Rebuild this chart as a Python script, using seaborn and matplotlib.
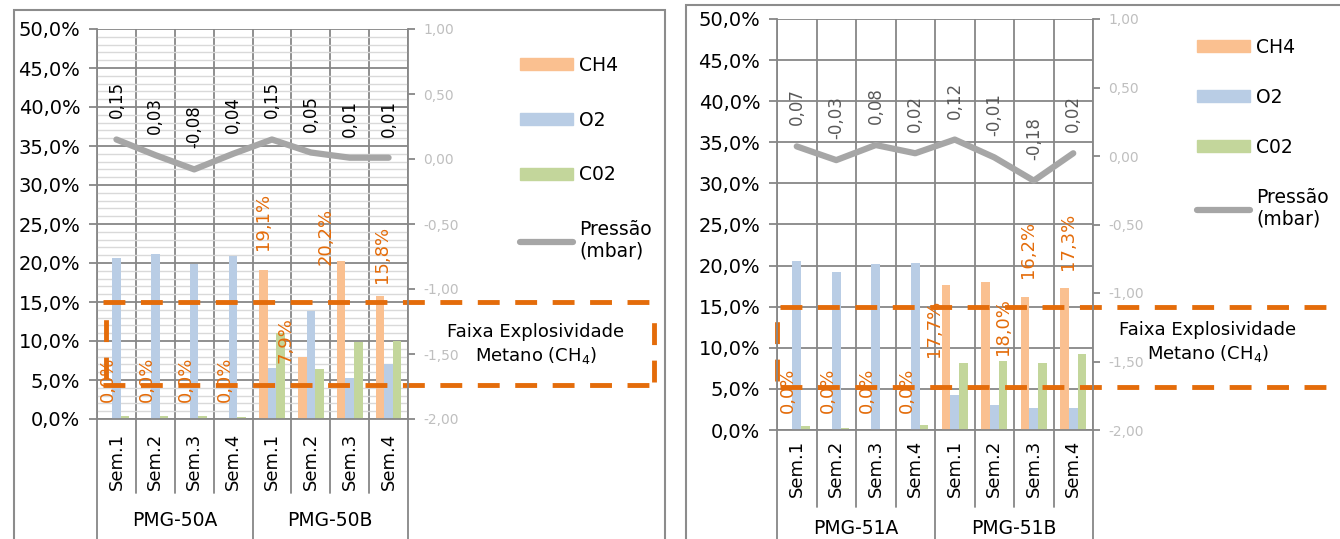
import numpy as np
import pandas as pd
import matplotlib
matplotlib.use('Agg')
import matplotlib.pyplot as plt
import matplotlib.transforms as mtransforms
from matplotlib.patches import Patch, Rectangle
from matplotlib.lines import Line2D
from matplotlib.ticker import FuncFormatter, MultipleLocator
import seaborn as sns

# dados
semanas = ['Sem.1', 'Sem.2', 'Sem.3', 'Sem.4']
gases = ['CH4', 'O2', 'C02']

grupos_50 = ['PMG-50A', 'PMG-50B']
ch4_50 = [0.0, 0.0, 0.0, 0.0, 19.1, 7.9, 20.2, 15.8]
o2_50 = [20.7, 21.1, 19.9, 20.9, 6.6, 13.9, 5.2, 7.1]
co2_50 = [0.4, 0.4, 0.4, 0.2, 11.0, 6.4, 9.9, 10.0]
pressao_50 = [0.15, 0.03, -0.08, 0.04, 0.15, 0.05, 0.01, 0.01]

grupos_51 = ['PMG-51A', 'PMG-51B']
ch4_51 = [0.0, 0.0, 0.0, 0.0, 17.7, 18.0, 16.2, 17.3]
o2_51 = [20.6, 19.2, 20.2, 20.3, 4.3, 3.0, 2.7, 2.7]
co2_51 = [0.5, 0.2, 0.0, 0.6, 8.1, 8.4, 8.1, 9.3]
pressao_51 = [0.07, -0.03, 0.08, 0.02, 0.12, -0.01, -0.18, 0.02]

# faixa de explosividade do metano (como desenhada em cada painel)
faixa_50 = (4.3, 15.0)
faixa_51 = (5.2, 15.0)

# deslocamento dos rotulos de CH4 (px: dx, distancia acima da barra)
desloc_50 = [(0, 17), (0, 17), (0, 17), (0, 17), (0, 20), (-17, -6), (-16, -4), (2, 13)]
desloc_51 = [(0, 17), (0, 17), (0, 17), (0, 17), (-12, -72), (17, -73), (3, 19), (3, 18)]

cores = {'CH4': '#FAC090', 'O2': '#B9CDE5', 'C02': '#C3D69B'}
cinza_linha = '#A6A6A6'
laranja = '#E46C0A'
grade = '#878787'

W, H = 1340, 539
PX = 72 / 100  # px -> pt

sns.set_style('white')
plt.rcParams['font.family'] = ['DejaVu Sans']
plt.rcParams['text.color'] = 'black'
plt.rcParams['xtick.color'] = 'black'
plt.rcParams['ytick.color'] = 'black'
plt.rcParams['axes.labelcolor'] = 'black'

fig = plt.figure(figsize=(W / 100, H / 100), dpi=100)


def fx(x):
    return x / W


def fy(y):
    return 1 - y / H


def pct(v, _):
    return f'{v:.1f}%'.replace('.', ',')


def dec(v, _):
    return f'{v:.2f}'.replace('.', ',')


def painel(rect, grupos, ch4, o2, co2, pressao, faixa, desloc, minor, cor_rot,
           sep_sem, sep_grp, y_grp, pad_x, leg_pos, leg_esp, faixa_x, texto_pos):
    ax = fig.add_axes(rect)
    cats = [f'{g} {s}' for g in grupos for s in semanas]
    df = pd.DataFrame({'cat': cats * 3,
                       'gas': np.repeat(gases, len(cats)),
                       'valor': ch4 + o2 + co2})
    sns.barplot(data=df, x='cat', y='valor', hue='gas', hue_order=gases,
                palette=cores, width=0.66, gap=0, saturation=1, linewidth=0,
                errorbar=None, legend=False, ax=ax)
    ax.set_xlim(-0.5, 7.5)
    ax.set_ylim(0, 50)
    ax.set_xlabel('')
    ax.set_ylabel('')
    ax.set_xticks(range(8))
    ax.set_xticklabels(semanas * 2, rotation=90, fontsize=13)
    ax.tick_params(axis='x', length=0, pad=pad_x)
    ax.yaxis.set_major_locator(MultipleLocator(5))
    ax.yaxis.set_major_formatter(FuncFormatter(pct))
    ax.tick_params(axis='y', labelsize=14, length=6, width=1.3, color=grade, pad=6,
                   direction='out', left=True, labelcolor='black')
    ax.set_axisbelow(True)
    if minor:
        ax.yaxis.set_minor_locator(MultipleLocator(1))
        ax.grid(which='minor', axis='y', color='#D9D9D9', lw=1.0)
        ax.tick_params(axis='y', which='minor', length=0)
    ax.grid(which='major', axis='y', color=grade, lw=1.3)
    ax.set_xticks(np.arange(-0.5, 8, 1), minor=True)
    ax.tick_params(axis='x', which='minor', length=0)
    ax.grid(which='minor', axis='x', color=grade, lw=1.3)
    for s in ['top', 'right']:
        ax.spines[s].set_visible(False)
    ax.spines['left'].set_color(grade)
    ax.spines['left'].set_linewidth(1.3)
    ax.spines['bottom'].set_color(grade)
    ax.spines['bottom'].set_linewidth(1.3)

    # rotulos de CH4
    barras = ax.patches[:8]
    for b, v, (dx, dy) in zip(barras, ch4, desloc):
        ax.annotate(f'{v:.1f}%'.replace('.', ','), (b.get_x() + b.get_width() / 2, v),
                    xytext=(dx * PX, dy * PX), textcoords='offset points',
                    rotation=90, ha='center', va='bottom', fontsize=13, color=laranja)

    # separadores do eixo de categorias
    tr = mtransforms.blended_transform_factory(ax.transData, ax.transAxes)
    for i, b in enumerate(np.arange(-0.5, 8, 1)):
        fim = sep_grp if i % 4 == 0 else sep_sem
        ax.plot([b, b], [0, fim], transform=tr, clip_on=False, color=grade, lw=1.3)
    for j, g in enumerate(grupos):
        ax.text(1.5 + 4 * j, y_grp, g, transform=tr, ha='center', va='center', fontsize=13.5)

    # pressao no eixo secundario
    ax2 = ax.twinx()
    sns.lineplot(x=np.arange(8), y=pressao, ax=ax2, color=cinza_linha, lw=4.5,
                 solid_joinstyle='round', solid_capstyle='round')
    ax2.set_ylim(-2, 1)
    ax2.set_xlim(-0.5, 7.5)
    ax2.yaxis.set_major_locator(MultipleLocator(0.5))
    ax2.yaxis.set_major_formatter(FuncFormatter(dec))
    ax2.tick_params(axis='y', labelsize=10, labelcolor='#BFBFBF', length=5, width=1.3,
                    color=grade, pad=6, direction='out', right=True)
    for s in ['top', 'left', 'bottom']:
        ax2.spines[s].set_visible(False)
    ax2.spines['right'].set_color(grade)
    ax2.spines['right'].set_linewidth(1.3)
    for i, v in enumerate(pressao):
        ax2.annotate(dec(v, None), (i, v), xytext=(0, 21 * PX), textcoords='offset points',
                     rotation=90, ha='center', va='bottom', fontsize=12, color=cor_rot)

    # faixa de explosividade
    x0, x1, xv = faixa_x
    lo, hi = faixa
    tr2 = mtransforms.blended_transform_factory(ax.transAxes, ax.transData)
    estilo = dict(transform=tr2, clip_on=False, color=laranja, lw=3.5, dashes=(4.5, 3.2))
    ax.plot([x0, x1], [hi, hi], **estilo)
    ax.plot([x0, x1], [lo, lo], **estilo)
    ax.plot([xv, xv], [lo + 0.8, hi - 1.5], **estilo)
    if x1 < 1.9:
        ax.plot([x1 - 0.005, x1 - 0.005], [lo + 0.5, hi - 1.5], **estilo)
    fig.text(fx(texto_pos[0]), fy(texto_pos[1]), 'Faixa Explosividade',
             ha='center', va='center', fontsize=13)
    fig.text(fx(texto_pos[0]), fy(texto_pos[1] + 23), 'Metano (CH$_4$)',
             ha='center', va='center', fontsize=13)

    # legenda
    handles = [Patch(color=cores[g]) for g in gases] + \
              [Line2D([], [], color=cinza_linha, lw=4.5, solid_capstyle='round')]
    ax2.legend(handles, gases + ['Pressão\n(mbar)'], loc='upper left',
               bbox_to_anchor=(fx(leg_pos[0]), fy(leg_pos[1])), bbox_transform=fig.transFigure,
               frameon=False, fontsize=13.5, borderpad=0, borderaxespad=0,
               handlelength=2.8, handleheight=0.6, handletextpad=0.35, labelspacing=leg_esp)
    return ax


# painel PMG-50
painel([fx(97), fy(419), fx(311), 390 / H], grupos_50, ch4_50, o2_50, co2_50, pressao_50,
       faixa_50, desloc_50, True, 'black', -74 / 390, -125 / 390, -101 / 390, 10,
       (520, 56), 1.9, (0.02, 1.795, 0.03), (536, 332))

# painel PMG-51
painel([fx(777), fy(430), fx(316), 411 / H], grupos_51, ch4_51, o2_51, co2_51, pressao_51,
       faixa_51, desloc_51, False, '#595959', -77 / 411, -115 / 411, -98 / 411, 7,
       (1197, 38), 1.65, (0.01, 1.95, 0.0), (1208, 330))

# molduras dos graficos
fig.add_artist(Rectangle((fx(14), -0.1), fx(665 - 14), fy(10) + 0.1, transform=fig.transFigure,
                         fill=False, ec='#8C8C8C', lw=1.5))
fig.add_artist(Rectangle((fx(686), -0.1), 0.6, fy(5) + 0.1, transform=fig.transFigure,
                         fill=False, ec='#8C8C8C', lw=1.5))

fig.savefig('out.png', dpi=100)
